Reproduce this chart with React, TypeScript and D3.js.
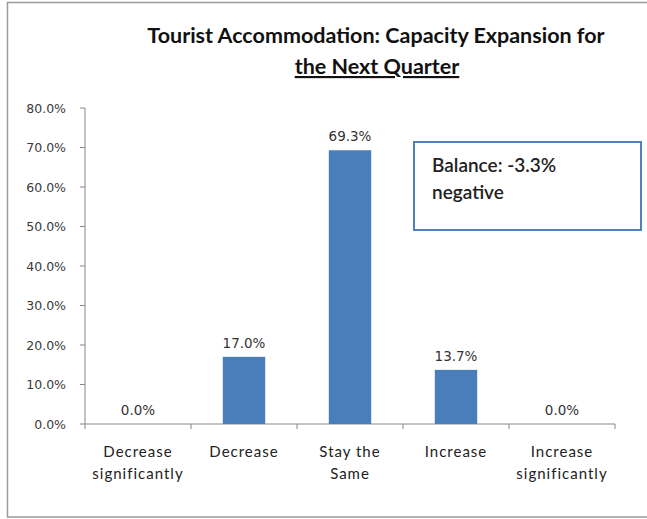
import React from "react";
import * as d3 from "d3";

const categories: string[][] = [
  ["Decrease", "significantly"],
  ["Decrease"],
  ["Stay the", "Same"],
  ["Increase"],
  ["Increase", "significantly"],
];
const values: number[] = [0.0, 17.0, 69.3, 13.7, 0.0];
const yTicks: number[] = [0, 10, 20, 30, 40, 50, 60, 70, 80];
const titleLines: string[] = ["Tourist Accommodation: Capacity Expansion for", "the Next Quarter"];
const balanceLines: string[] = ["Balance: -3.3%", "negative"];

const W = 647;
const H = 519;
const left = 85;
const right = 615;
const top = 108;
const bottom = 424;

export default function App() {
  const keys = categories.map((c) => c.join(" "));
  const x = d3.scaleBand<string>().domain(keys).range([left, right]).padding(0);
  const y = d3.scaleLinear().domain([0, 80]).range([bottom, top]);
  const bw = x.bandwidth() * 0.4;
  const labelFont = "Verdana, 'DejaVu Sans', sans-serif";
  const calibri = "Lato, 'Open Sans', sans-serif";

  return (
    <svg
      width={W}
      height={H}
      style={{ position: "absolute", left: 0, top: 0, background: "#fff" }}
    >
      <rect x={7.5} y={2.5} width={700} height={514.5} fill="#fff" stroke="#9a9a9a" strokeWidth={1.5} />
      {/* Title */}
      <text x={376} y={43} textAnchor="middle" fontFamily={calibri} fontWeight="bold" fontSize={21.5} fill="#111">
        {titleLines[0]}
      </text>
      <text x={377} y={74} textAnchor="middle" fontFamily={calibri} fontWeight="bold" fontSize={21.5} fill="#111" textDecoration="underline">
        {titleLines[1]}
      </text>

      {/* Y axis */}
      <line x1={left} x2={left} y1={y(80)} y2={y(0)} stroke="#888" strokeWidth={1} />
      {yTicks.map((t) => (
        <g key={t}>
          <line x1={left - 5} x2={left} y1={y(t)} y2={y(t)} stroke="#888" />
          <text x={66} y={y(t) + 4.5} textAnchor="end" fontFamily={labelFont} fontSize={12.5} fill="#3a3a3a">
            {t.toFixed(1) + "%"}
          </text>
        </g>
      ))}

      {/* X axis */}
      <line x1={left} x2={right} y1={y(0)} y2={y(0)} stroke="#888" />
      {keys.map((k, i) => (
        <line key={"t" + i} x1={x(k)!} x2={x(k)!} y1={y(0)} y2={y(0) + 5} stroke="#888" />
      ))}
      <line x1={right} x2={right} y1={y(0)} y2={y(0) + 5} stroke="#888" />

      {/* Bars */}
      {keys.map((k, i) => {
        const cx = x(k)! + x.bandwidth() / 2;
        return (
          <g key={k}>
            {values[i] > 0 && (
              <rect x={cx - bw / 2} y={y(values[i])} width={bw} height={y(0) - y(values[i])} fill="#4a7ebb" />
            )}
            <text x={cx} y={y(values[i]) - 9} textAnchor="middle" fontFamily={labelFont} fontSize={13.5} fill="#333">
              {values[i].toFixed(1) + "%"}
            </text>
            {categories[i].map((line, j) => (
              <text key={j} x={cx} y={457 + j * 21.5} textAnchor="middle" fontFamily={calibri} fontSize={15} letterSpacing={1} fill="#222">
                {line}
              </text>
            ))}
          </g>
        );
      })}

      {/* Balance box */}
      <rect x={414} y={142} width={227} height={88} fill="#fff" stroke="#4f81bd" strokeWidth={2} />
      {balanceLines.map((l, i) => (
        <text key={i} x={432} y={172 + i * 27} fontFamily={calibri} fontWeight={600} fontSize={19} fill="#222">
          {l}
        </text>
      ))}
    </svg>
  );
}
